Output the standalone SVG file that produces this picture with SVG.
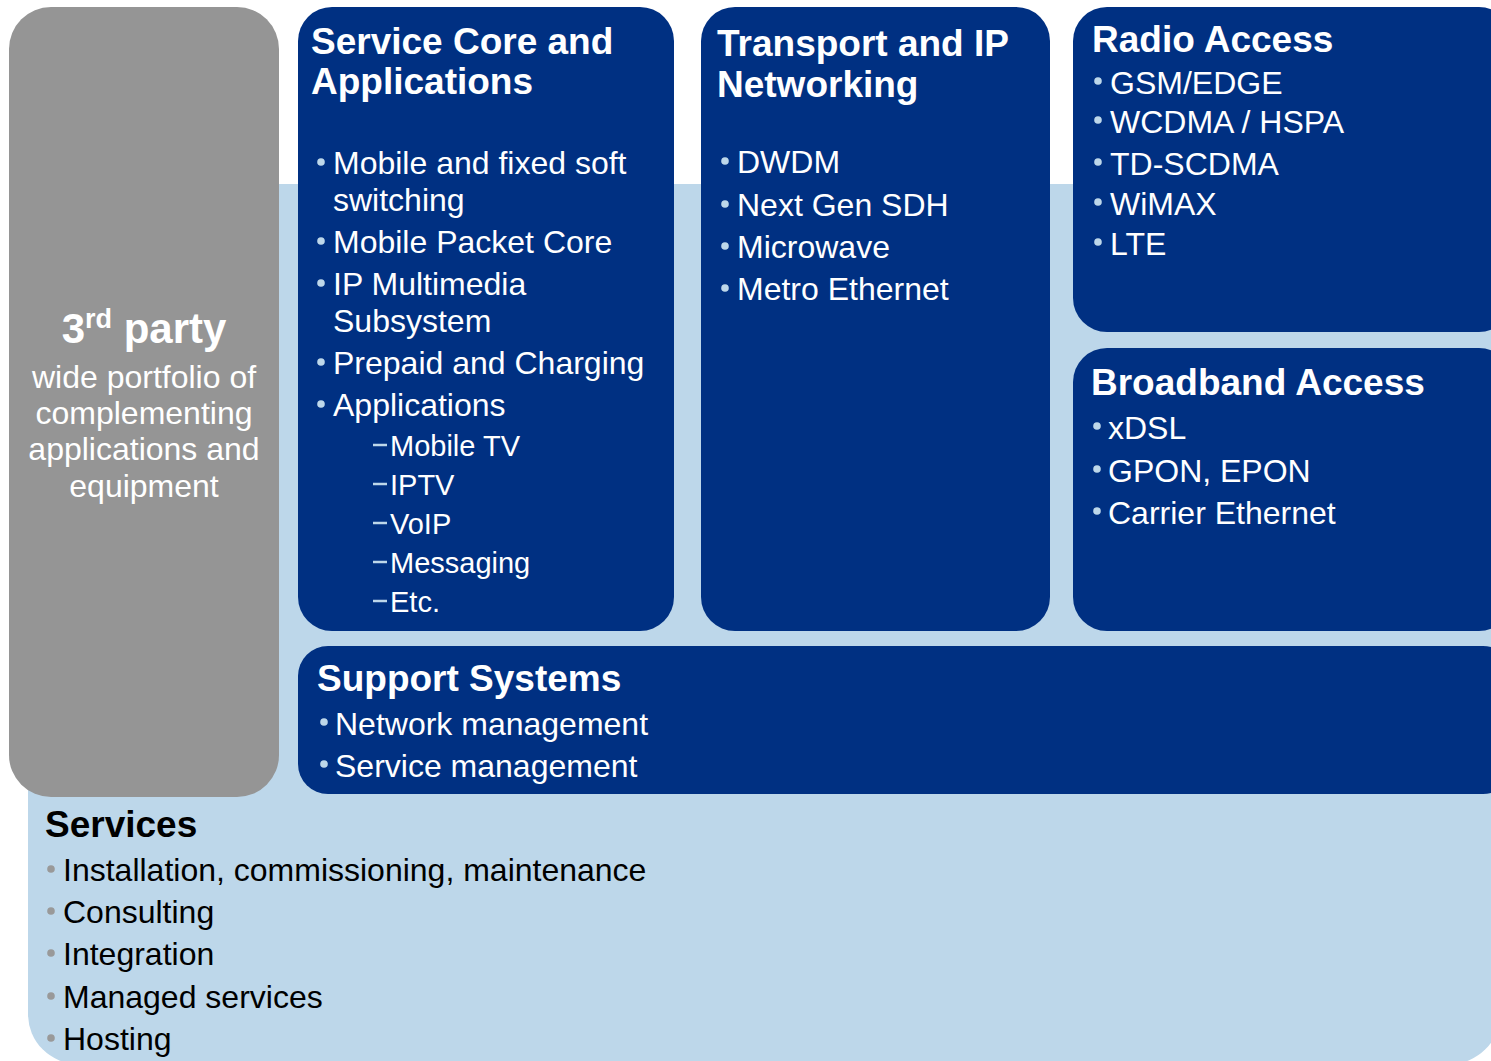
<svg xmlns="http://www.w3.org/2000/svg" width="1491" height="1061" viewBox="0 0 1491 1061">
<style>
text{font-family:"Liberation Sans",Arial,sans-serif}
.box{fill:#003082}
.h{font-weight:bold;font-size:37px;fill:#fff}
.t{font-size:32px;fill:#fff}
.s{font-size:29px;fill:#fff}
.b{fill:#bdd7ea}
.d{stroke:#bdd7ea;stroke-width:2.5}
.sh{font-weight:bold;font-size:37px;fill:#000}
.st{font-size:32px;fill:#000}
.gb{fill:#999}
.w{font-size:32px;fill:#fff;text-anchor:middle}
</style>
<rect x="0" y="0" width="1491" height="1061" fill="#fff"/>
<g id="services">
<rect x="28" y="184" width="1472" height="880" rx="50" fill="#bdd7ea"/>
<text class="sh" x="45" y="837">Services</text>
<circle class="gb" cx="51" cy="869" r="3.8"/><text class="st" x="63" y="881">Installation, commissioning, maintenance</text>
<circle class="gb" cx="51" cy="911" r="3.8"/><text class="st" x="63" y="923">Consulting</text>
<circle class="gb" cx="51" cy="953" r="3.8"/><text class="st" x="63" y="965">Integration</text>
<circle class="gb" cx="51" cy="996" r="3.8"/><text class="st" x="63" y="1008">Managed services</text>
<circle class="gb" cx="51" cy="1038" r="3.8"/><text class="st" x="63" y="1050">Hosting</text>
</g>
<g id="third-party">
<rect x="9" y="7" width="270" height="790" rx="42" fill="#959595"/>
<text x="144" y="343" text-anchor="middle" font-weight="bold" font-size="42" fill="#fff">3<tspan dy="-15" font-size="27">rd</tspan><tspan dy="15"> party</tspan></text>
<text class="w" x="144" y="388">wide portfolio of</text>
<text class="w" x="144" y="424">complementing</text>
<text class="w" x="144" y="460">applications and</text>
<text class="w" x="144" y="497">equipment</text>
</g>
<g id="service-core">
<rect class="box" x="298" y="7" width="376" height="624" rx="34"/>
<text class="h" x="311" y="54">Service Core and</text>
<text class="h" x="311" y="94">Applications</text>
<circle class="b" cx="321" cy="162" r="3.8"/><text class="t" x="333" y="174">Mobile and fixed soft</text>
<text class="t" x="333" y="211">switching</text>
<circle class="b" cx="321" cy="241" r="3.8"/><text class="t" x="333" y="253">Mobile Packet Core</text>
<circle class="b" cx="321" cy="283" r="3.8"/><text class="t" x="333" y="295">IP Multimedia</text>
<text class="t" x="333" y="332">Subsystem</text>
<circle class="b" cx="321" cy="362" r="3.8"/><text class="t" x="333" y="374">Prepaid and Charging</text>
<circle class="b" cx="321" cy="404" r="3.8"/><text class="t" x="333" y="416">Applications</text>
<line class="d" x1="373" y1="445" x2="387" y2="445"/><text class="s" x="390" y="456">Mobile TV</text>
<line class="d" x1="373" y1="484" x2="387" y2="484"/><text class="s" x="390" y="495">IPTV</text>
<line class="d" x1="373" y1="523" x2="387" y2="523"/><text class="s" x="390" y="534">VoIP</text>
<line class="d" x1="373" y1="562" x2="387" y2="562"/><text class="s" x="390" y="573">Messaging</text>
<line class="d" x1="373" y1="601" x2="387" y2="601"/><text class="s" x="390" y="612">Etc.</text>
</g>
<g id="transport">
<rect class="box" x="701" y="7" width="349" height="624" rx="34"/>
<text class="h" x="717" y="56">Transport and IP</text>
<text class="h" x="717" y="97">Networking</text>
<circle class="b" cx="725" cy="161" r="3.8"/><text class="t" x="737" y="173">DWDM</text>
<circle class="b" cx="725" cy="204" r="3.8"/><text class="t" x="737" y="216">Next Gen SDH</text>
<circle class="b" cx="725" cy="246" r="3.8"/><text class="t" x="737" y="258">Microwave</text>
<circle class="b" cx="725" cy="288" r="3.8"/><text class="t" x="737" y="300">Metro Ethernet</text>
</g>
<g id="radio-access">
<rect class="box" x="1073" y="7" width="440" height="325" rx="34"/>
<text class="h" x="1092" y="52">Radio Access</text>
<circle class="b" cx="1098" cy="81" r="3.8"/><text class="t" x="1110" y="94">GSM/EDGE</text>
<circle class="b" cx="1098" cy="120" r="3.8"/><text class="t" x="1110" y="133">WCDMA / HSPA</text>
<circle class="b" cx="1098" cy="162" r="3.8"/><text class="t" x="1110" y="175">TD-SCDMA</text>
<circle class="b" cx="1098" cy="202" r="3.8"/><text class="t" x="1110" y="215">WiMAX</text>
<circle class="b" cx="1098" cy="242" r="3.8"/><text class="t" x="1110" y="255">LTE</text>
</g>
<g id="broadband-access">
<rect class="box" x="1073" y="348" width="440" height="283" rx="34"/>
<text class="h" x="1091" y="395">Broadband Access</text>
<circle class="b" cx="1097" cy="426" r="3.8"/><text class="t" x="1108" y="439">xDSL</text>
<circle class="b" cx="1097" cy="469" r="3.8"/><text class="t" x="1108" y="482">GPON, EPON</text>
<circle class="b" cx="1097" cy="511" r="3.8"/><text class="t" x="1108" y="524">Carrier Ethernet</text>
</g>
<g id="support-systems">
<rect class="box" x="298" y="646" width="1215" height="148" rx="30"/>
<text class="h" x="317" y="691">Support Systems</text>
<circle class="b" cx="324" cy="722" r="3.8"/><text class="t" x="335" y="735">Network management</text>
<circle class="b" cx="324" cy="764" r="3.8"/><text class="t" x="335" y="777">Service management</text>
</g>
<g id="connectors"/>
</svg>
